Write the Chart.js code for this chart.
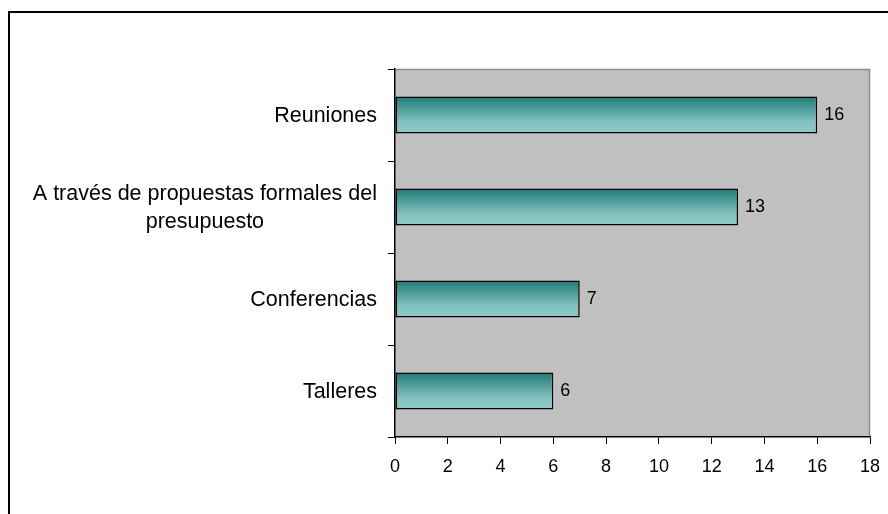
<!DOCTYPE html>
<html>
<head>
<meta charset="utf-8">
<script src="https://cdn.jsdelivr.net/npm/chart.js@4"></script>
<style>
  html, body { margin: 0; padding: 0; background: #fff; }
  #wrap { width: 888px; height: 514px; position: relative; }
</style>
</head>
<body>
<div id="wrap"><canvas id="mycanvas" width="888" height="514"></canvas></div>
<script>
const categories = [['Reuniones'], ['A través de propuestas formales del', 'presupuesto'], ['Conferencias'], ['Talleres']];
const values = [16, 13, 7, 6];
const xTicks = [0, 2, 4, 6, 8, 10, 12, 14, 16, 18];

const FONT = '"Liberation Sans", Arial, sans-serif';

function barGradient(context) {
    const chart = context.chart;
    const y = chart.scales.y;
    if (!y || !chart.chartArea) return '#5aa5a2';
    const yc = y.getPixelForValue(context.dataIndex);
    const half = (y.height / categories.length) * 0.4 / 2;
    const g = chart.ctx.createLinearGradient(0, yc - half, 0, yc + half);
    g.addColorStop(0, '#1e7b77');
    g.addColorStop(0.7, '#84c3bf');
    g.addColorStop(1, '#8ccac6');
    return g;
}

// gray plot area, outer frame, category labels and value labels
const decor = {
    id: 'decor',
    beforeDraw: chart => {
        const { ctx, chartArea: a } = chart;
        ctx.save();
        ctx.fillStyle = '#c0c0c0';
        ctx.fillRect(a.left, a.top, a.right - a.left, a.bottom - a.top);
        ctx.strokeStyle = '#8a8a8a';
        ctx.lineWidth = 1.5;
        ctx.beginPath();
        ctx.moveTo(a.left, a.top + 0.5);
        ctx.lineTo(a.right - 0.5, a.top + 0.5);
        ctx.lineTo(a.right - 0.5, a.bottom);
        ctx.stroke();
        ctx.restore();
    },
    afterDraw: chart => {
        const { ctx } = chart;
        const y = chart.scales.y;
        const x = chart.scales.x;
        ctx.save();
        ctx.strokeStyle = '#000';
        ctx.lineWidth = 2;
        ctx.strokeRect(9, 12, 1000, 1000);

        ctx.fillStyle = '#000';
        ctx.font = '21.5px ' + FONT;
        ctx.textBaseline = 'middle';
        categories.forEach((lines, i) => {
            const yc = y.getPixelForValue(i) + 1;
            const lh = 28;
            const maxW = Math.max(...lines.map(l => ctx.measureText(l).width));
            const right = 377;
            ctx.textAlign = 'center';
            lines.forEach((l, j) => {
                ctx.fillText(l, right - maxW / 2, yc + (j - (lines.length - 1) / 2) * lh);
            });
        });
        ctx.font = '18px ' + FONT;
        ctx.textAlign = 'left';
        values.forEach((v, i) => {
            ctx.fillText(String(v), x.getPixelForValue(v) + 7, y.getPixelForValue(i));
        });
        ctx.restore();
    }
};

const myChart = new Chart(document.getElementById('mycanvas').getContext('2d'), {
    type: 'bar',
    data: {
        labels: categories.map(c => c.join(' ')),
        datasets: [{
            data: values,
            backgroundColor: barGradient,
            borderColor: '#000',
            borderWidth: 1.5,
            borderSkipped: false,
            categoryPercentage: 1,
            barPercentage: 0.4,
        }]
    },
    options: {
        indexAxis: 'y',
        responsive: false,
        animation: false,
        layout: { padding: { top: 69, right: 18, left: 0, bottom: 0 } },
        plugins: {
            legend: { display: false },
            tooltip: { enabled: false },
        },
        scales: {
            x: {
                min: 0,
                max: 18,
                afterFit: s => { s.height = 77; s.paddingLeft = 0; s.paddingRight = 0; },
                afterBuildTicks: s => { s.ticks = xTicks.map(v => ({ value: v })); },
                grid: {
                    drawOnChartArea: false,
                    drawTicks: true,
                    tickLength: 7,
                    color: '#000',
                },
                border: { color: '#000', width: 1.5 },
                ticks: {
                    color: '#000',
                    font: { family: FONT, size: 18 },
                    padding: 12,
                    maxRotation: 0,
                },
            },
            y: {
                afterFit: s => { s.width = 395; s.paddingTop = 0; s.paddingBottom = 0; },
                grid: {
                    offset: true,
                    drawOnChartArea: false,
                    drawTicks: true,
                    tickLength: 7,
                    color: '#000',
                },
                border: { color: '#000', width: 1.5 },
                ticks: { display: false },
            },
        },
    },
    plugins: [decor],
});
</script>
</body>
</html>
